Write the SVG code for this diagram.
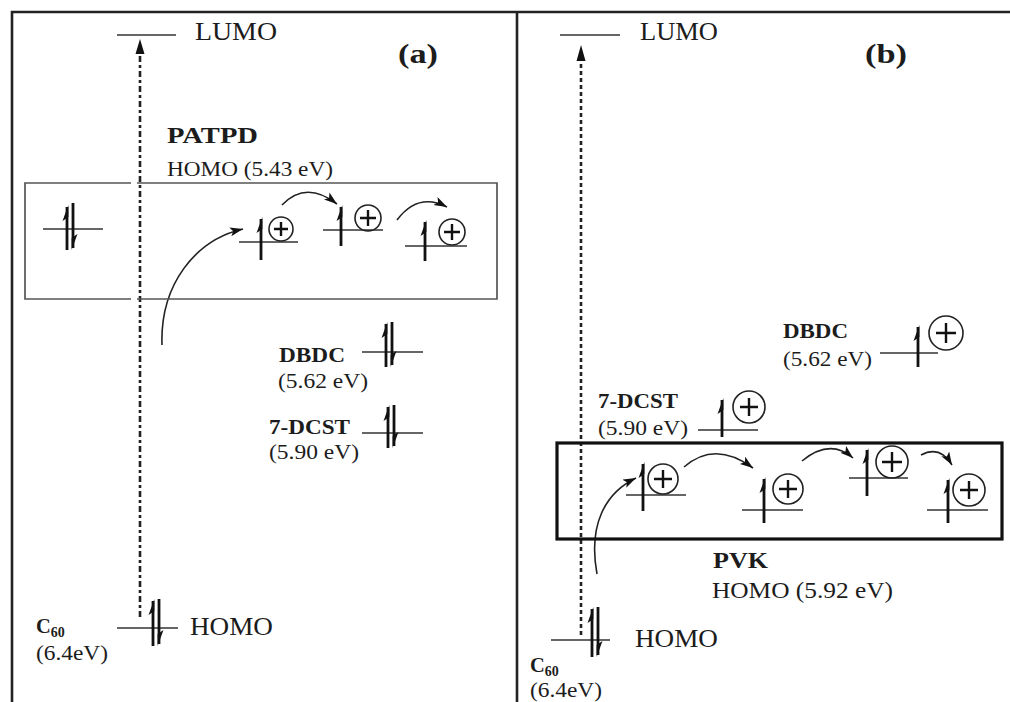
<svg xmlns="http://www.w3.org/2000/svg" width="1010" height="702" viewBox="0 0 1010 702">
<style>
text{font-family:"Liberation Serif","Times New Roman",serif;fill:#1c1c1c}
.b{font-weight:bold}
.frame{stroke:#222;stroke-width:2.6;fill:none}
.lvl{stroke:#333;stroke-width:1.6;fill:none}
.spin{stroke:#111;stroke-width:2.8;fill:none}
.head{fill:#111}
.hole{stroke:#222;stroke-width:1.6;fill:none}
.plus{stroke:#111;stroke-width:2.4}
.curve{stroke:#222;stroke-width:1.6;fill:none;marker-end:url(#ah)}
</style>
<defs>
<marker id="ah" markerUnits="userSpaceOnUse" markerWidth="16" markerHeight="12" refX="13" refY="4.5" orient="auto">
<path d="M0,0 L13,4.5 L0,9 L3,4.5 Z" fill="#111"/>
</marker>
</defs>
<rect width="1010" height="702" fill="#fff"/>

<g id="frame">
<path class="frame" d="M12,702 V12 H1010"/>
<path class="frame" d="M517,12 V702"/>
</g>

<g id="connectors">
<path d="M140,617 V54" stroke="#222" stroke-width="2.6" stroke-dasharray="6,3,3,3" fill="none"/>
<path d="M140,39 L144.5,54 L135.5,54 Z" fill="#111"/>
<path d="M581,635 V61" stroke="#222" stroke-width="2.6" stroke-dasharray="4,3" fill="none"/>
<path d="M581,45 L585.5,61 L576.5,61 Z" fill="#111"/>
<path class="curve" d="M162,345 C160,285 195,240 243,229"/>
<path class="curve" d="M282,205 Q306,180 337,204"/>
<path class="curve" d="M397,220 Q418,192 447,207"/>
<path class="curve" d="M597,574 C588,525 605,493 636,478"/>
<path class="curve" d="M684,467 Q715,440 753,468"/>
<path class="curve" d="M802,461 Q830,438 853,458"/>
<path class="curve" d="M921,455 Q940,445 952,465"/>
</g>

<g id="panel-a-labels">
<text x="195" y="40" font-size="24.5" textLength="82" lengthAdjust="spacingAndGlyphs">LUMO</text>
<text class="b" x="398" y="63" font-size="28" textLength="40" lengthAdjust="spacingAndGlyphs">(a)</text>
<text class="b" x="167" y="143" font-size="23.5" textLength="91" lengthAdjust="spacingAndGlyphs">PATPD</text>
<text x="167" y="176" font-size="21" textLength="166" lengthAdjust="spacingAndGlyphs">HOMO (5.43 eV)</text>
</g>

<g id="lumo-a"><path class="lvl" d="M117,35 H176"/></g>

<g id="patpd-box">
<path d="M131,183 H25 V299 H131 M137,299 H497 V183 H137" stroke="#555" stroke-width="1.7" fill="none"/>
</g>

<g id="patpd-pair">
<path class="lvl" d="M43,229 H103"/>
<path class="spin" d="M67,207 V250"/><path class="head" d="M68.4,205 L62.5,221 L68.4,217 Z"/>
<path class="spin" d="M73,203 V248"/><path class="head" d="M71.6,250 L77.5,234 L71.6,238 Z"/>
</g>

<g id="patpd-hole1">
<path class="lvl" d="M239,242 H298"/>
<path class="spin" d="M261,219 V260"/><path class="head" d="M262.4,217 L256.5,233 L262.4,229 Z"/>
<circle class="hole" cx="281" cy="229" r="12"/>
<path class="plus" d="M274,229 H288 M281,222 V236"/>
</g>
<g id="patpd-hole2">
<path class="lvl" d="M323,230 H383"/>
<path class="spin" d="M341,207 V246"/><path class="head" d="M342.4,205 L336.5,221 L342.4,217 Z"/>
<circle class="hole" cx="368" cy="218" r="13"/>
<path class="plus" d="M360,218 H376 M368,210 V226" stroke-width="3"/>
</g>
<g id="patpd-hole3">
<path class="lvl" d="M405,246 H467"/>
<path class="spin" d="M425,222 V261"/><path class="head" d="M426.4,220 L420.5,236 L426.4,232 Z"/>
<circle class="hole" cx="452" cy="232" r="13"/>
<path class="plus" d="M444,232 H460 M452,224 V240" stroke-width="3"/>
</g>

<g id="dbdc-a">
<text class="b" x="279" y="362" font-size="20.5" textLength="66" lengthAdjust="spacingAndGlyphs">DBDC</text>
<text x="278" y="388" font-size="20.5" textLength="90" lengthAdjust="spacingAndGlyphs">(5.62 eV)</text>
<path class="lvl" d="M362,352 H423"/>
<path class="spin" d="M386,324 V367"/><path class="head" d="M387.4,322 L381.5,338 L387.4,334 Z"/>
<path class="spin" d="M392,322 V365"/><path class="head" d="M390.6,367 L396.5,351 L390.6,355 Z"/>
</g>

<g id="dcst-a">
<text class="b" x="269" y="434" font-size="20.5" textLength="81" lengthAdjust="spacingAndGlyphs">7-DCST</text>
<text x="269" y="459" font-size="20.5" textLength="90" lengthAdjust="spacingAndGlyphs">(5.90 eV)</text>
<path class="lvl" d="M362,433 H423"/>
<path class="spin" d="M388,407 V448"/><path class="head" d="M389.4,405 L383.5,421 L389.4,417 Z"/>
<path class="spin" d="M394,405 V446"/><path class="head" d="M392.6,448 L398.5,432 L392.6,436 Z"/>
</g>

<g id="c60-a">
<text class="b" x="36" y="633" font-size="20.5">C<tspan font-size="14" dy="4">60</tspan></text>
<text x="36" y="660" font-size="20.5" textLength="72" lengthAdjust="spacingAndGlyphs">(6.4eV)</text>
<path class="lvl" d="M117,628 H178"/>
<path class="spin" d="M153,601 V646"/><path class="head" d="M154.4,599 L148.5,615 L154.4,611 Z"/>
<path class="spin" d="M159,599 V644"/><path class="head" d="M157.6,646 L163.5,630 L157.6,634 Z"/>
<text x="190" y="635" font-size="24.5" textLength="83" lengthAdjust="spacingAndGlyphs">HOMO</text>
</g>

<g id="panel-b-labels">
<path class="lvl" d="M560,35 H620"/>
<text x="640" y="40" font-size="24.5" textLength="78" lengthAdjust="spacingAndGlyphs">LUMO</text>
<text class="b" x="865" y="63" font-size="28" textLength="42" lengthAdjust="spacingAndGlyphs">(b)</text>
</g>

<g id="dbdc-b">
<text class="b" x="783" y="338" font-size="20.5" textLength="65" lengthAdjust="spacingAndGlyphs">DBDC</text>
<text x="783" y="366" font-size="20.5" textLength="89" lengthAdjust="spacingAndGlyphs">(5.62 eV)</text>
<path class="lvl" d="M880,353 H938"/>
<path class="spin" d="M918,327 V367"/><path class="head" d="M919.4,325 L913.5,341 L919.4,337 Z"/>
<circle class="hole" cx="946" cy="333" r="17"/>
<path class="plus" d="M936,333 H956 M946,323 V343" stroke-width="3"/>
</g>

<g id="dcst-b">
<text class="b" x="598" y="408" font-size="20.5" textLength="80" lengthAdjust="spacingAndGlyphs">7-DCST</text>
<text x="598" y="435" font-size="20.5" textLength="90" lengthAdjust="spacingAndGlyphs">(5.90 eV)</text>
<path class="lvl" d="M698,430 H758"/>
<path class="spin" d="M722,400 V437"/><path class="head" d="M723.4,398 L717.5,414 L723.4,410 Z"/>
<circle class="hole" cx="749" cy="407" r="16"/>
<path class="plus" d="M740,407 H758 M749,398 V416" stroke-width="3"/>
</g>

<g id="pvk-box">
<rect x="557" y="443" width="445" height="96" fill="none" stroke="#111" stroke-width="3.2"/>
</g>

<g id="pvk-hole1">
<path class="lvl" d="M626,495 H686"/>
<path class="spin" d="M643,464 V511"/><path class="head" d="M644.4,462 L638.5,478 L644.4,474 Z"/>
<circle class="hole" cx="663" cy="479" r="15"/>
<path class="plus" d="M654,479 H672 M663,470 V488" stroke-width="3"/>
</g>
<g id="pvk-hole2">
<path class="lvl" d="M742,510 H803"/>
<path class="spin" d="M764,479 V523"/><path class="head" d="M765.4,477 L759.5,493 L765.4,489 Z"/>
<circle class="hole" cx="788" cy="489" r="15"/>
<path class="plus" d="M779,489 H797 M788,480 V498" stroke-width="3"/>
</g>
<g id="pvk-hole3">
<path class="lvl" d="M849,478 H908"/>
<path class="spin" d="M867,450 V496"/><path class="head" d="M868.4,448 L862.5,464 L868.4,460 Z"/>
<circle class="hole" cx="892" cy="462" r="16"/>
<path class="plus" d="M882,462 H902 M892,452 V472" stroke-width="3.2"/>
</g>
<g id="pvk-hole4">
<path class="lvl" d="M927,510 H988"/>
<path class="spin" d="M948,480 V523"/><path class="head" d="M949.4,478 L943.5,494 L949.4,490 Z"/>
<circle class="hole" cx="969" cy="490" r="16"/>
<path class="plus" d="M960,490 H978 M969,481 V499" stroke-width="3"/>
</g>

<g id="pvk-labels">
<text class="b" x="713" y="568" font-size="22.5" textLength="55" lengthAdjust="spacingAndGlyphs">PVK</text>
<text x="712" y="598" font-size="22.5" textLength="181" lengthAdjust="spacingAndGlyphs">HOMO (5.92 eV)</text>
</g>

<g id="c60-b">
<path class="lvl" d="M551,640 H610"/>
<path class="spin" d="M592,609 V657"/><path class="head" d="M593.4,607 L587.5,623 L593.4,619 Z"/>
<path class="spin" d="M598,607 V655"/><path class="head" d="M596.6,657 L602.5,641 L596.6,645 Z"/>
<text x="635" y="647" font-size="24.5" textLength="83" lengthAdjust="spacingAndGlyphs">HOMO</text>
<text class="b" x="530" y="672" font-size="20.5">C<tspan font-size="14" dy="4">60</tspan></text>
<text x="530" y="697" font-size="20.5" textLength="72" lengthAdjust="spacingAndGlyphs">(6.4eV)</text>
</g>
</svg>
